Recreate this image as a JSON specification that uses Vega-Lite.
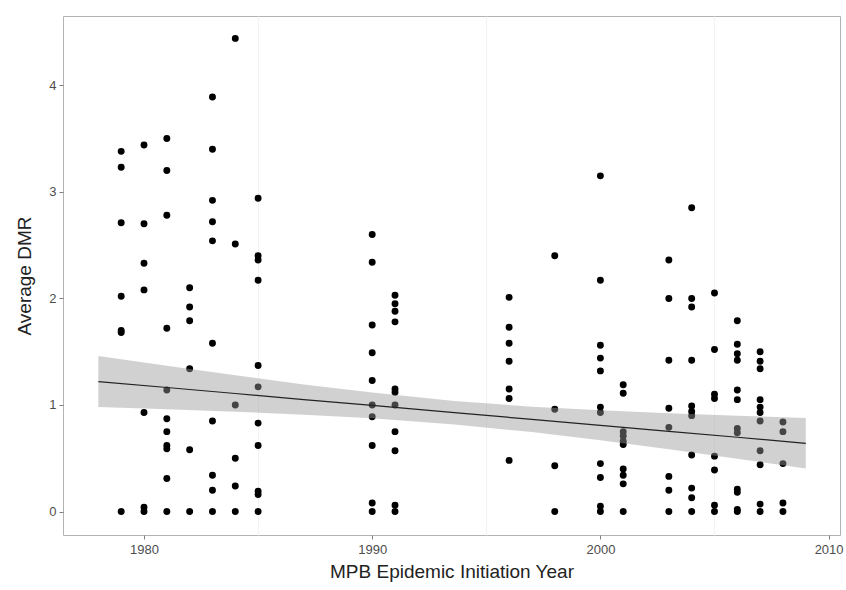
{
  "$schema": "https://vega.github.io/schema/vega-lite/v6.json",
  "width": 777,
  "height": 519,
  "autosize": {"type": "none"},
  "padding": {"left": 63, "top": 16, "right": 6, "bottom": 55},
  "background": "white",
  "config": {
    "font": "Liberation Sans",
    "view": {"stroke": "#b3b3b3", "strokeWidth": 1},
    "axis": {
      "labelFont": "Liberation Sans",
      "titleFont": "Liberation Sans",
      "labelFontSize": 13,
      "labelColor": "#4d4d4d",
      "titleFontSize": 19,
      "titleFontWeight": "normal",
      "titleColor": "#222222",
      "tickColor": "#7f7f7f",
      "tickSize": 4,
      "domain": false
    }
  },
  "datasets": {
    "pts": [
      {"year": 1979, "dmr": 3.38}, {"year": 1979, "dmr": 3.23}, {"year": 1979, "dmr": 2.71}, {"year": 1979, "dmr": 2.02}, {"year": 1979, "dmr": 1.70}, {"year": 1979, "dmr": 1.68}, {"year": 1979, "dmr": 0},
      {"year": 1980, "dmr": 3.44}, {"year": 1980, "dmr": 2.70}, {"year": 1980, "dmr": 2.33}, {"year": 1980, "dmr": 2.08}, {"year": 1980, "dmr": 0.93}, {"year": 1980, "dmr": 0.04}, {"year": 1980, "dmr": 0},
      {"year": 1981, "dmr": 3.50}, {"year": 1981, "dmr": 3.20}, {"year": 1981, "dmr": 2.78}, {"year": 1981, "dmr": 1.72}, {"year": 1981, "dmr": 1.14}, {"year": 1981, "dmr": 0.87}, {"year": 1981, "dmr": 0.75}, {"year": 1981, "dmr": 0.62}, {"year": 1981, "dmr": 0.59}, {"year": 1981, "dmr": 0.31}, {"year": 1981, "dmr": 0},
      {"year": 1982, "dmr": 2.10}, {"year": 1982, "dmr": 1.92}, {"year": 1982, "dmr": 1.79}, {"year": 1982, "dmr": 1.34}, {"year": 1982, "dmr": 0.58}, {"year": 1982, "dmr": 0},
      {"year": 1983, "dmr": 3.89}, {"year": 1983, "dmr": 3.40}, {"year": 1983, "dmr": 2.92}, {"year": 1983, "dmr": 2.72}, {"year": 1983, "dmr": 2.54}, {"year": 1983, "dmr": 1.58}, {"year": 1983, "dmr": 0.85}, {"year": 1983, "dmr": 0.34}, {"year": 1983, "dmr": 0.20}, {"year": 1983, "dmr": 0},
      {"year": 1984, "dmr": 4.44}, {"year": 1984, "dmr": 2.51}, {"year": 1984, "dmr": 1.00}, {"year": 1984, "dmr": 0.50}, {"year": 1984, "dmr": 0.24}, {"year": 1984, "dmr": 0},
      {"year": 1985, "dmr": 2.94}, {"year": 1985, "dmr": 2.40}, {"year": 1985, "dmr": 2.36}, {"year": 1985, "dmr": 2.17}, {"year": 1985, "dmr": 1.37}, {"year": 1985, "dmr": 1.17}, {"year": 1985, "dmr": 0.83}, {"year": 1985, "dmr": 0.62}, {"year": 1985, "dmr": 0.19}, {"year": 1985, "dmr": 0.16}, {"year": 1985, "dmr": 0},
      {"year": 1990, "dmr": 2.60}, {"year": 1990, "dmr": 2.34}, {"year": 1990, "dmr": 1.75}, {"year": 1990, "dmr": 1.49}, {"year": 1990, "dmr": 1.23}, {"year": 1990, "dmr": 1.00}, {"year": 1990, "dmr": 0.89}, {"year": 1990, "dmr": 0.62}, {"year": 1990, "dmr": 0.08}, {"year": 1990, "dmr": 0},
      {"year": 1991, "dmr": 2.03}, {"year": 1991, "dmr": 1.95}, {"year": 1991, "dmr": 1.88}, {"year": 1991, "dmr": 1.78}, {"year": 1991, "dmr": 1.15}, {"year": 1991, "dmr": 1.12}, {"year": 1991, "dmr": 1.00}, {"year": 1991, "dmr": 0.75}, {"year": 1991, "dmr": 0.57}, {"year": 1991, "dmr": 0.06}, {"year": 1991, "dmr": 0},
      {"year": 1996, "dmr": 2.01}, {"year": 1996, "dmr": 1.73}, {"year": 1996, "dmr": 1.58}, {"year": 1996, "dmr": 1.41}, {"year": 1996, "dmr": 1.15}, {"year": 1996, "dmr": 1.06}, {"year": 1996, "dmr": 0.48},
      {"year": 1998, "dmr": 2.40}, {"year": 1998, "dmr": 0.96}, {"year": 1998, "dmr": 0.43}, {"year": 1998, "dmr": 0},
      {"year": 2000, "dmr": 3.15}, {"year": 2000, "dmr": 2.17}, {"year": 2000, "dmr": 1.56}, {"year": 2000, "dmr": 1.44}, {"year": 2000, "dmr": 1.32}, {"year": 2000, "dmr": 0.98}, {"year": 2000, "dmr": 0.93}, {"year": 2000, "dmr": 0.45}, {"year": 2000, "dmr": 0.32}, {"year": 2000, "dmr": 0.05}, {"year": 2000, "dmr": 0},
      {"year": 2001, "dmr": 1.19}, {"year": 2001, "dmr": 1.11}, {"year": 2001, "dmr": 0.75}, {"year": 2001, "dmr": 0.71}, {"year": 2001, "dmr": 0.66}, {"year": 2001, "dmr": 0.63}, {"year": 2001, "dmr": 0.40}, {"year": 2001, "dmr": 0.34}, {"year": 2001, "dmr": 0.26}, {"year": 2001, "dmr": 0},
      {"year": 2003, "dmr": 2.36}, {"year": 2003, "dmr": 2.00}, {"year": 2003, "dmr": 1.42}, {"year": 2003, "dmr": 0.97}, {"year": 2003, "dmr": 0.79}, {"year": 2003, "dmr": 0.33}, {"year": 2003, "dmr": 0.20}, {"year": 2003, "dmr": 0},
      {"year": 2004, "dmr": 2.85}, {"year": 2004, "dmr": 2.00}, {"year": 2004, "dmr": 1.92}, {"year": 2004, "dmr": 1.42}, {"year": 2004, "dmr": 0.99}, {"year": 2004, "dmr": 0.94}, {"year": 2004, "dmr": 0.90}, {"year": 2004, "dmr": 0.53}, {"year": 2004, "dmr": 0.22}, {"year": 2004, "dmr": 0.13}, {"year": 2004, "dmr": 0},
      {"year": 2005, "dmr": 2.05}, {"year": 2005, "dmr": 1.52}, {"year": 2005, "dmr": 1.10}, {"year": 2005, "dmr": 1.06}, {"year": 2005, "dmr": 0.52}, {"year": 2005, "dmr": 0.39}, {"year": 2005, "dmr": 0.06}, {"year": 2005, "dmr": 0},
      {"year": 2006, "dmr": 1.79}, {"year": 2006, "dmr": 1.57}, {"year": 2006, "dmr": 1.48}, {"year": 2006, "dmr": 1.42}, {"year": 2006, "dmr": 1.14}, {"year": 2006, "dmr": 1.05}, {"year": 2006, "dmr": 0.78}, {"year": 2006, "dmr": 0.74}, {"year": 2006, "dmr": 0.21}, {"year": 2006, "dmr": 0.18}, {"year": 2006, "dmr": 0.02}, {"year": 2006, "dmr": 0},
      {"year": 2007, "dmr": 1.50}, {"year": 2007, "dmr": 1.41}, {"year": 2007, "dmr": 1.34}, {"year": 2007, "dmr": 1.05}, {"year": 2007, "dmr": 0.98}, {"year": 2007, "dmr": 0.93}, {"year": 2007, "dmr": 0.85}, {"year": 2007, "dmr": 0.57}, {"year": 2007, "dmr": 0.44}, {"year": 2007, "dmr": 0.07}, {"year": 2007, "dmr": 0},
      {"year": 2008, "dmr": 0.84}, {"year": 2008, "dmr": 0.75}, {"year": 2008, "dmr": 0.45}, {"year": 2008, "dmr": 0.08}, {"year": 2008, "dmr": 0}
    ],
    "fit": [
      {"year": 1978, "fit": 1.220, "lo": 0.980, "hi": 1.460},
      {"year": 1981, "fit": 1.164, "lo": 0.960, "hi": 1.368},
      {"year": 1984, "fit": 1.108, "lo": 0.937, "hi": 1.279},
      {"year": 1987, "fit": 1.051, "lo": 0.909, "hi": 1.193},
      {"year": 1990, "fit": 0.996, "lo": 0.876, "hi": 1.116},
      {"year": 1993.6, "fit": 0.928, "lo": 0.818, "hi": 1.038},
      {"year": 1997, "fit": 0.865, "lo": 0.746, "hi": 0.984},
      {"year": 2000, "fit": 0.809, "lo": 0.668, "hi": 0.950},
      {"year": 2003, "fit": 0.753, "lo": 0.584, "hi": 0.922},
      {"year": 2006, "fit": 0.697, "lo": 0.495, "hi": 0.899},
      {"year": 2009, "fit": 0.640, "lo": 0.403, "hi": 0.878}
    ]
  },
  "layer": [
    {
      "data": {"name": "pts"},
      "mark": {"type": "point", "filled": true, "color": "black", "opacity": 1, "size": 48},
      "encoding": {
        "x": {
          "field": "year", "type": "quantitative",
          "scale": {"domain": [1976.45, 2010.5], "nice": false, "zero": false},
          "axis": {
            "title": "MPB Epidemic Initiation Year",
            "values": [1980, 1985, 1990, 1995, 2000, 2005, 2010],
            "format": "d",
            "labelExpr": "datum.value % 10 == 0 ? datum.label : ''",
            "tickOpacity": {"condition": {"test": "datum.value % 10 == 0", "value": 1}, "value": 0},
            "grid": true,
            "gridColor": "#f3f3f3",
            "gridOpacity": {"condition": {"test": "datum.value % 10 == 5", "value": 1}, "value": 0},
            "labelPadding": 4,
            "titlePadding": 6
          }
        },
        "y": {
          "field": "dmr", "type": "quantitative",
          "scale": {"domain": [-0.22, 4.65], "nice": false, "zero": false},
          "axis": {
            "title": "Average DMR",
            "values": [0, 1, 2, 3, 4],
            "format": "d",
            "grid": false,
            "labelPadding": 3,
            "titlePadding": 14
          }
        }
      }
    },
    {
      "data": {"name": "fit"},
      "mark": {"type": "area", "color": "#999999", "opacity": 0.45},
      "encoding": {
        "x": {"field": "year", "type": "quantitative", "title": "MPB Epidemic Initiation Year"},
        "y": {"field": "lo", "type": "quantitative", "title": "Average DMR"},
        "y2": {"field": "hi"}
      }
    },
    {
      "data": {"name": "fit"},
      "mark": {"type": "line", "color": "#222222", "strokeWidth": 1.2},
      "encoding": {
        "x": {"field": "year", "type": "quantitative", "title": "MPB Epidemic Initiation Year"},
        "y": {"field": "fit", "type": "quantitative", "title": "Average DMR"}
      }
    }
  ]
}
